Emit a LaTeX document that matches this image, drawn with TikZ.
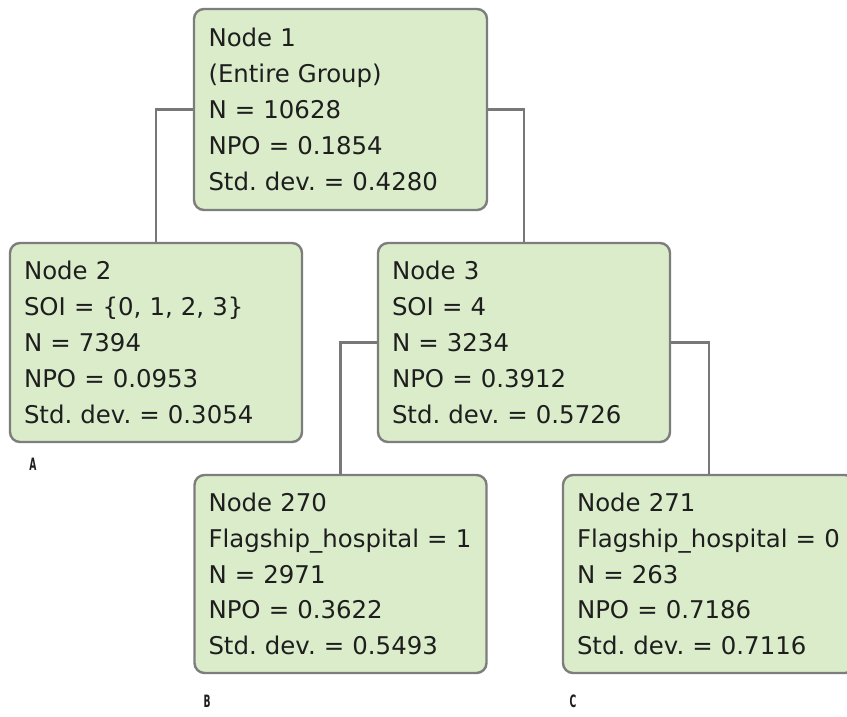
\documentclass[tikz,border=0pt]{standalone}
\usepackage{fontspec}
\setmainfont{DejaVu Sans}
\newfontfamily\labfont{DejaVu Sans Condensed Bold}
\definecolor{boxfill}{RGB}{218,236,202}
\definecolor{boxline}{RGB}{125,125,125}
\definecolor{linkcol}{RGB}{120,120,120}
\definecolor{txtcol}{RGB}{30,30,30}
\tikzset{
  treebox/.style={draw=boxline, line width=2.4pt, fill=boxfill, rounded corners=10pt,
    minimum height=199pt, text width=264pt, inner xsep=14pt, inner ysep=0pt,
    align=left, text=txtcol, font=\frenchspacing\fontsize{24.4}{35.8}\selectfont},
  link/.style={draw=linkcol, line width=2.2pt},
  tag/.style={font=\labfont\fontsize{17}{17}\selectfont, text=txtcol, inner sep=0pt, xscale=0.6}
}
\begin{document}
\begin{tikzpicture}[x=1pt,y=-1pt]
\useasboundingbox (0,0) rectangle (847,717);
\fill[white] (0,0) rectangle (847,717);
\clip (0,0) rectangle (847,717);
\coordinate (c1) at (340.5,109.5);
\coordinate (c2) at (156,342.5);
\coordinate (c3) at (524,342.5);
\coordinate (c270) at (340.5,574);
\coordinate (c271) at (709,574);
\node[treebox, minimum width=293pt, minimum height=201pt] (n1) at (c1) {Node 1\\(Entire Group)\\N = 10628\\NPO = 0.1854\\Std. dev. = 0.4280};
\node[treebox, minimum width=292pt] (n2) at (c2) {Node 2\\SOI = \{0, 1, 2, 3\}\\N = 7394\\NPO = 0.0953\\Std. dev. = 0.3054};
\node[treebox, minimum width=292pt] (n3) at (c3) {Node 3\\SOI = 4\\N = 3234\\NPO = 0.3912\\Std. dev. = 0.5726};
\node[treebox, minimum width=291pt, minimum height=198pt] (n270) at (c270) {Node 270\\Flagship\_hospital = 1\\N = 2971\\NPO = 0.3622\\Std. dev. = 0.5493};
\node[treebox, minimum width=292pt, minimum height=198pt] (n271) at (c271) {Node 271\\Flagship\_hospital = 0\\N = 263\\NPO = 0.7186\\Std. dev. = 0.7116};
\draw[link] (n1.west) -| (n2.north);
\draw[link] (n1.east) -| (n3.north);
\draw[link] (n3.west) -| (n270.north);
\draw[link] (n3.east) -| (n271.north);
\node[tag] (la) at (33,464) {A};
\node[tag] (lb) at (207,701) {B};
\node[tag] (lc) at (573,701) {C};
\end{tikzpicture}
\end{document}
